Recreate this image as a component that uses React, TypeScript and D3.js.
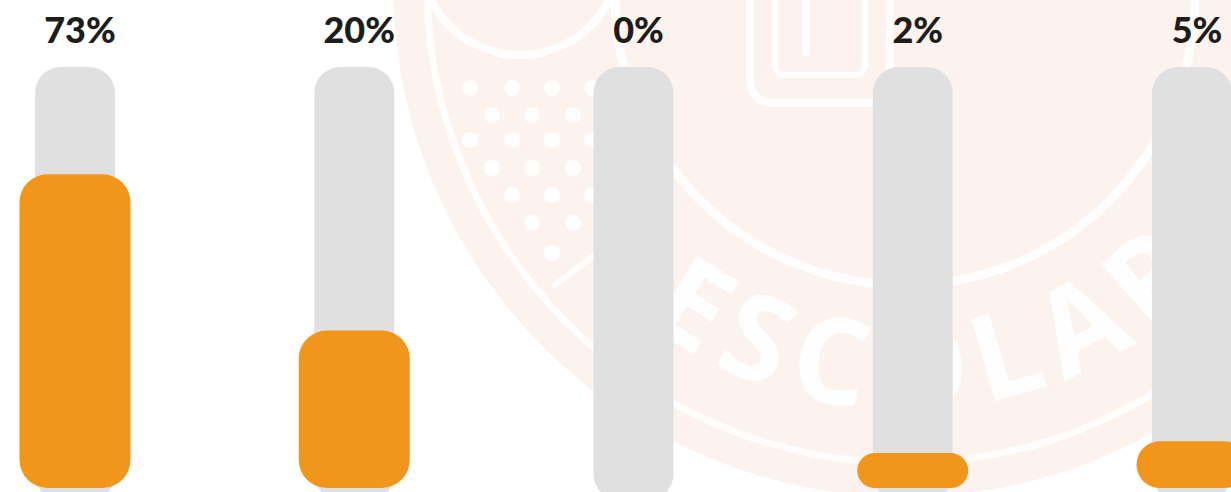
import React from 'react';
import * as d3 from 'd3';

// Column keys (no category text is shown in the picture)
const categories = ['c1', 'c2', 'c3', 'c4', 'c5'];
// Percentages printed above each column
const values = [73, 20, 0, 2, 5];
// Visible orange fill height of each column, as % of the grey track
const fillLevels = [74.5, 37.4, 0, 8.3, 11.1];

const W = 1231;
const H = 492;

export default function App() {
  const x = d3.scalePoint<string>().domain(categories).range([75, 1192]);
  const y = d3.scaleLinear().domain([0, 100]).range([488, 67]);
  const trackW = 80;
  const fillW = 111;

  // watermark geometry (faint seal behind the chart)
  const cx = 905, cy = -15, R = 512;
  const rt = 425;
  const a0 = (175 * Math.PI) / 180;
  const a1 = (40 * Math.PI) / 180;
  const arcPath = `M ${cx + rt * Math.cos(a0)} ${cy + rt * Math.sin(a0)} A ${rt} ${rt} 0 0 0 ${cx + rt * Math.cos(a1)} ${cy + rt * Math.sin(a1)}`;

  const dotRows = [
    { y: 88, xs: [470, 512, 552, 592] },
    { y: 115, xs: [492, 532, 573] },
    { y: 140, xs: [470, 512, 552, 592] },
    { y: 168, xs: [492, 532, 573] },
    { y: 195, xs: [512, 552, 592] },
    { y: 223, xs: [532, 573] },
    { y: 253, xs: [552] },
  ];

  return (
    <svg width={W} height={H} style={{ position: 'absolute', left: 0, top: 0, background: '#ffffff' }}>
      <defs>
        <path id="wmArc" d={arcPath} />
        <clipPath id="wmClip">
          <circle cx={cx} cy={cy} r={R} />
        </clipPath>
      </defs>
      {/* faint watermark */}
      <g clipPath="url(#wmClip)">
        <circle cx={cx} cy={cy} r={R} fill="#fdf3ee" />
        <circle cx={cx} cy={cy} r={478} fill="none" stroke="#ffffff" strokeOpacity={0.85} strokeWidth={7} />
        <circle cx={905} cy={-5} r={290} fill="none" stroke="#ffffff" strokeOpacity={0.9} strokeWidth={9} />
        <circle cx={520} cy={-45} r={100} fill="none" stroke="#ffffff" strokeOpacity={0.9} strokeWidth={8} />
        <rect x={750} y={-40} width={140} height={143} rx={22} fill="none" stroke="#ffffff" strokeOpacity={0.9} strokeWidth={8} />
        <rect x={775} y={-40} width={90} height={115} rx={10} fill="none" stroke="#ffffff" strokeOpacity={0.9} strokeWidth={6} />
        <line x1={806} y1={0} x2={806} y2={52} stroke="#ffffff" strokeOpacity={0.9} strokeWidth={8} strokeLinecap="round" />
        <line x1={555} y1={285} x2={625} y2={232} stroke="#ffffff" strokeOpacity={0.85} strokeWidth={6} strokeLinecap="round" />
        {dotRows.map((r, i) =>
          r.xs.map((dx, j) => <circle key={`d${i}-${j}`} cx={dx} cy={r.y} r={8} fill="#ffffff" fillOpacity={0.9} />)
        )}
      </g>
      <text
        fontFamily="'Open Sans', 'DejaVu Sans', sans-serif"
        fontWeight={700}
        fontSize={120}
        letterSpacing={14}
        fill="#ffffff"
        fillOpacity={0.9}
      >
        <textPath href="#wmArc" startOffset="66.5%" textAnchor="middle">ESCOLAR</textPath>
      </text>

      {/* tracks */}
      {categories.map((c) => (
        <rect
          key={`t-${c}`}
          x={(x(c) as number) - trackW / 2}
          y={y(100)}
          width={trackW}
          height={500 - y(100)}
          rx={26}
          fill="#e0e0e0"
        />
      ))}

      {/* orange fills */}
      {categories.map((c, i) => {
        const top = y(fillLevels[i]);
        const h = y(0) - top;
        if (h <= 0) return null;
        return (
          <rect
            key={`f-${c}`}
            x={(x(c) as number) - fillW / 2}
            y={top}
            width={fillW}
            height={h}
            rx={Math.min(28, h / 2)}
            fill="#f2961b"
          />
        );
      })}

      {/* value labels */}
      {categories.map((c, i) => (
        <text
          key={`l-${c}`}
          x={(x(c) as number) + 5}
          y={43}
          textAnchor="middle"
          fontFamily="Lato, 'Open Sans', sans-serif"
          fontWeight={900}
          fontSize={36}
          fill="#1d1d1b"
        >
          {values[i]}%
        </text>
      ))}
    </svg>
  );
}
